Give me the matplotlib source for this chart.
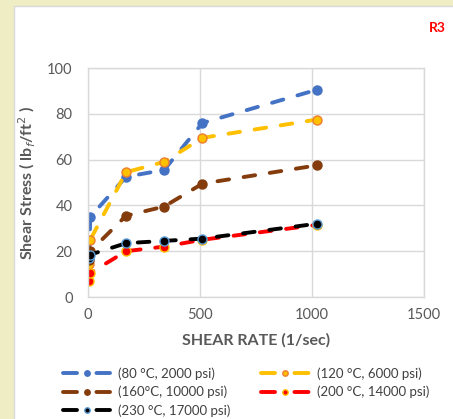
import matplotlib
matplotlib.use("Agg")
import matplotlib.pyplot as plt
from matplotlib.patches import Rectangle
from matplotlib.lines import Line2D
from matplotlib.legend_handler import HandlerLine2D

plt.rcParams['font.family'] = ['Lato', 'DejaVu Sans']

# shear rates of the viscometer readings (1/sec)
shear_rate = [5.1, 10.2, 170, 340, 511, 1022]

# shear stress (lbf/ft2) per test condition
stress_80 = [18, 35, 52.5, 55.5, 76, 90.5]
stress_120 = [14.5, 25, 54.5, 59, 69.5, 77.5]
stress_160 = [16, 20, 35.5, 39.5, 49.5, 57.5]
stress_200 = [7, 10.5, 20, 22, 25, 31.5]
stress_230 = [17, 18.5, 23.5, 24.5, 25.5, 32]

labels = ["(80 °C, 2000 psi)", "(120 °C, 6000 psi)", "(160°C, 10000 psi)",
          "(200 °C, 14000 psi)", "(230 °C, 17000 psi)"]

series = [stress_80, stress_120, stress_160, stress_200, stress_230]
line_cols = ["#4472C4", "#FFC000", "#843C0C", "#FF0000", "#000000"]
face_cols = ["#4472C4", "#FFC000", "#843C0C", "#FF0000", "#000000"]
edge_cols = ["#4472C4", "#ED7D31", "#843C0C", "#FFC000", "#5B9BD5"]

fig = plt.figure(figsize=(4.53, 4.19), dpi=100)
fig.patch.set_facecolor("#EFEDC3")

# white chart area
fig.patches.append(Rectangle((14/453, -0.05), 1.0, 1 - 6/419 + 0.05,
                             transform=fig.transFigure, facecolor="white",
                             edgecolor="#D9D9D9", lw=1.0, zorder=-5))

ax = fig.add_axes([88/453, 122/419, 336/453, 229/419])
ax.set_zorder(2)
ax.set_facecolor("white")

lines = []
for y, lc, fc, ec, lab in zip(series, line_cols, face_cols, edge_cols, labels):
    ln, = ax.plot(shear_rate, y, color=lc, lw=2.8, dashes=(3.0, 3.8),
                  marker="o", ms=6.5, mfc=fc, mec=ec, mew=1.0,
                  dash_capstyle="round", label=lab)
    lines.append(ln)

ax.set_xlim(0, 1500)
ax.set_ylim(0, 100)
ax.set_xticks([0, 500, 1000, 1500])
ax.set_yticks([0, 20, 40, 60, 80, 100])
ax.grid(True, color="#D9D9D9", lw=1.0)
ax.set_axisbelow(True)
for s in ax.spines.values():
    s.set_color("#D9D9D9")
    s.set_linewidth(1.0)
ax.tick_params(length=0, colors="#595959", labelsize=10.5)
ax.tick_params(axis="y", pad=11)
ax.tick_params(axis="x", pad=8)

ax.set_xlabel("SHEAR RATE (1/sec)", fontsize=11.5, color="#595959",
              fontweight="bold", labelpad=8)
ax.set_ylabel(r"Shear Stress ( lb$_f$/ft$^2$ )", fontsize=11.5, color="#595959",
              fontweight="bold", labelpad=7)

fig.text(437/453, 1 - 28/419, "R3", color="#FF0000", fontsize=10,
         fontweight="bold", ha="center", va="center")


# legend keys: dash, dot, dash
def key_style(handle, orig):
    handle.update_from(orig)
    handle.set_linestyle((0, (3.6, 5.0)))


# row-wise legend: 80 | 120, 160 | 200, 230
order = [0, 2, 4, 1, 3]
ax.legend([lines[i] for i in order], [labels[i] for i in order],
          loc="upper center", bbox_to_anchor=(0.47, -0.255), ncol=2,
          frameon=False, fontsize=9.5, handlelength=3.6, numpoints=1,
          columnspacing=2.3, labelspacing=0.45, handletextpad=0.6,
          labelcolor="#404040", markerscale=0.6,
          handler_map={Line2D: HandlerLine2D(update_func=key_style)})

fig.savefig("out.png", dpi=100)
